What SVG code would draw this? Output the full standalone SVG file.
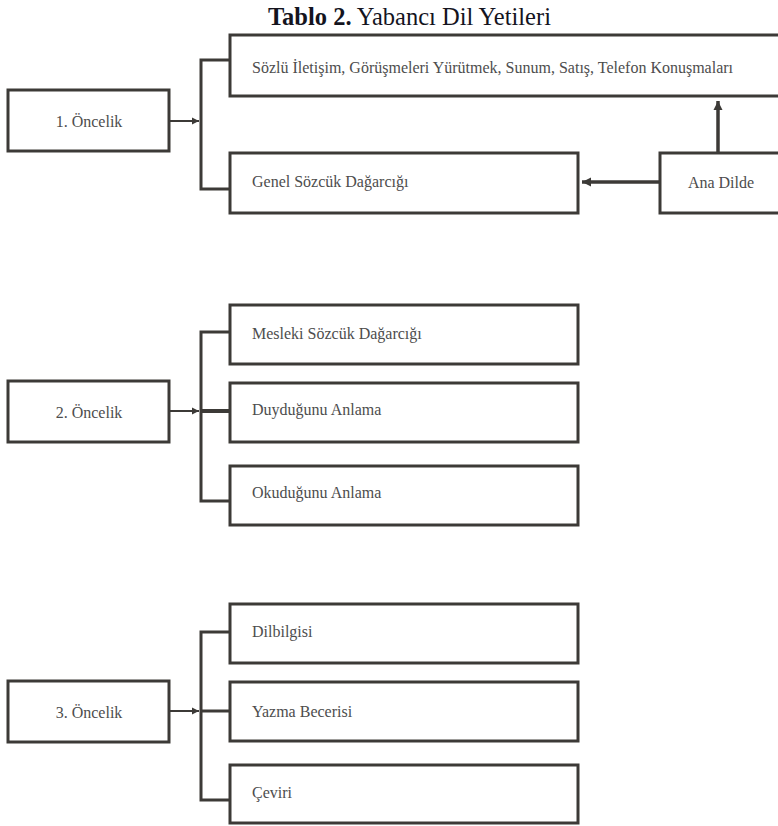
<svg xmlns="http://www.w3.org/2000/svg" width="778" height="826" viewBox="0 0 778 826">
<defs>
<style>
.box{fill:#fff;stroke:#3c3a37;stroke-width:3}
.lbl{font-family:"Liberation Serif","Times New Roman",serif;font-size:16px;fill:#4d4d4d}
.ctr{text-anchor:middle}
.br{fill:none;stroke:#3c3a37;stroke-width:3}
.ar{fill:none;stroke:#3c3a37;stroke-width:2}
.thick{fill:none;stroke:#3c3a37;stroke-width:3.5}
.title{font-family:"Liberation Serif","Times New Roman",serif;font-size:24.5px;fill:#14141e}
</style>
<marker id="ah" markerUnits="userSpaceOnUse" markerWidth="8" markerHeight="8" refX="7" refY="4" orient="auto">
<path d="M0,0.5 L7,4 L0,7.5 Z" fill="#3c3a37"/>
</marker>
<marker id="ahb" markerUnits="userSpaceOnUse" markerWidth="10" markerHeight="10" refX="9" refY="5" orient="auto">
<path d="M0,0.5 L9,5 L0,9.5 Z" fill="#3c3a37"/>
</marker>
</defs>
<rect width="778" height="826" fill="#fff"/>
<text class="title" x="268" y="25"><tspan font-weight="bold">Tablo 2.</tspan> Yabancı Dil Yetileri</text>

<g id="connectors">
<path class="br" d="M229,60 H201 V189 H229"/>
<path class="ar" d="M170,121 H199" marker-end="url(#ah)"/>
<path class="thick" d="M718,152 V101" marker-end="url(#ahb)"/>
<path class="thick" d="M660,182 H582" marker-end="url(#ahb)"/>

<path class="br" d="M229,332 H201 V501 H229"/>
<path class="br" d="M201,411 H229" style="stroke-width:4"/>
<path class="ar" d="M170,411 H199" marker-end="url(#ah)"/>

<path class="br" d="M229,632 H201 V800 H229"/>
<path class="br" d="M201,711 H229"/>
<path class="ar" d="M170,711 H199" marker-end="url(#ah)"/>
</g>

<g id="p1"><rect class="box" x="8" y="90" width="161" height="61"/><text class="lbl ctr" x="89" y="127">1. Öncelik</text></g>
<g id="sozlu"><rect class="box" x="230" y="35" width="560" height="61"/><text class="lbl" x="252" y="73">Sözlü İletişim, Görüşmeleri Yürütmek, Sunum, Satış, Telefon Konuşmaları</text></g>
<g id="genel"><rect class="box" x="230" y="153" width="348" height="60"/><text class="lbl" x="252" y="187">Genel Sözcük Dağarcığı</text></g>
<g id="anadil"><rect class="box" x="660" y="153" width="130" height="60"/><text class="lbl ctr" x="721" y="188">Ana Dilde</text></g>

<g id="p2"><rect class="box" x="8" y="381" width="161" height="61"/><text class="lbl ctr" x="89" y="418">2. Öncelik</text></g>
<g id="mesleki"><rect class="box" x="230" y="305" width="348" height="59"/><text class="lbl" x="252" y="339">Mesleki Sözcük Dağarcığı</text></g>
<g id="duydugunu"><rect class="box" x="230" y="383" width="348" height="59"/><text class="lbl" x="252" y="415">Duyduğunu Anlama</text></g>
<g id="okudugunu"><rect class="box" x="230" y="466" width="348" height="59"/><text class="lbl" x="252" y="498">Okuduğunu Anlama</text></g>

<g id="p3"><rect class="box" x="8" y="681" width="161" height="61"/><text class="lbl ctr" x="89" y="718">3. Öncelik</text></g>
<g id="dilbilgisi"><rect class="box" x="230" y="604" width="348" height="59"/><text class="lbl" x="252" y="637">Dilbilgisi</text></g>
<g id="yazma"><rect class="box" x="230" y="682" width="348" height="59"/><text class="lbl" x="252" y="717">Yazma Becerisi</text></g>
<g id="ceviri"><rect class="box" x="230" y="765" width="348" height="58"/><text class="lbl" x="252" y="798">Çeviri</text></g>
</svg>
